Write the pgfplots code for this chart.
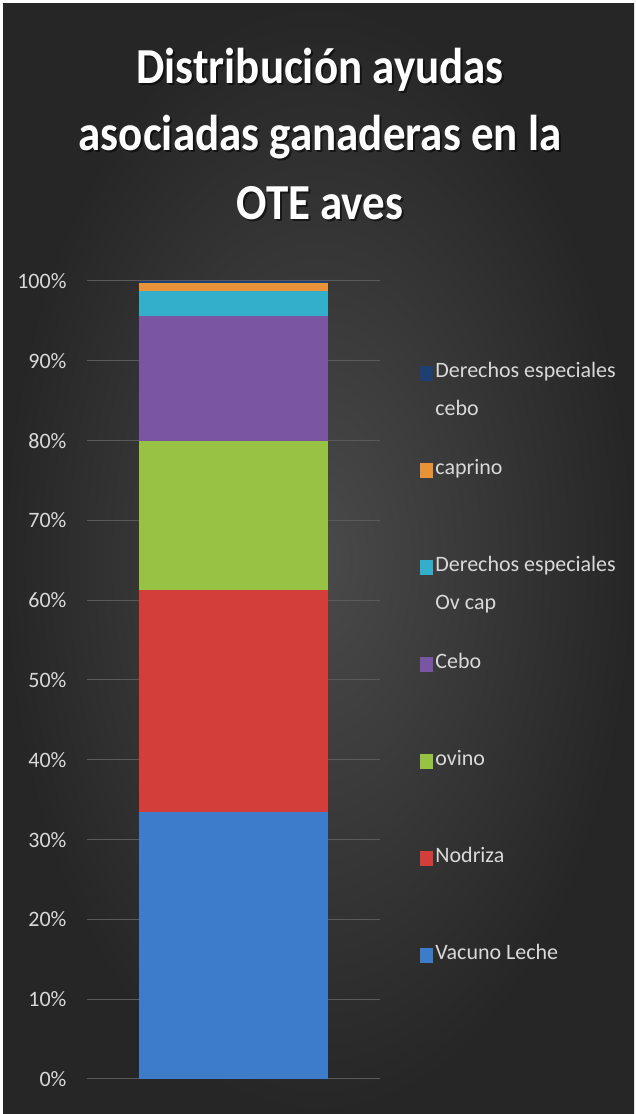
\documentclass[border=0pt]{standalone}
\usepackage{pgfplots}
\pgfplotsset{compat=1.18}
\usepackage{fontspec}
\setmainfont{Carlito}
\definecolor{bgIn}{HTML}{4A4A4A}
\definecolor{bgOut}{HTML}{262626}
\definecolor{gridc}{HTML}{5A5A5A}
\definecolor{tickc}{HTML}{D9D9D9}
\definecolor{cBlue}{HTML}{3D7CC8}
\definecolor{cRed}{HTML}{D33D3A}
\definecolor{cGreen}{HTML}{98C243}
\definecolor{cPurple}{HTML}{7A56A2}
\definecolor{cCyan}{HTML}{33AFCC}
\definecolor{cOrange}{HTML}{E8923A}
\definecolor{cNavy}{HTML}{1F3F73}
\newcommand{\second}[1]{\makebox[0pt][l]{\raisebox{-38pt}[0pt][0pt]{#1}}}
\begin{document}
\begin{tikzpicture}
\path[use as bounding box] (0,0) rectangle (636pt,1114pt);
\fill[white] (0,0) rectangle (636pt,1114pt);
\shade[inner color=bgIn, outer color=bgOut] (3pt,0) rectangle (634pt,1110pt);
\foreach \yy/\txt in {1030/{Distribución ayudas},963/{asociadas ganaderas en la},894/{OTE aves}}{
  \node[anchor=base, inner sep=0pt, text=black, opacity=0.55] at (322pt,\yy pt-2pt) {\scalebox{1}[1.12]{\fontsize{45}{45}\selectfont\bfseries \txt}};
  \node[anchor=base, inner sep=0pt, text=white] at (320pt,\yy pt) {\scalebox{1}[1.12]{\fontsize{45}{45}\selectfont\bfseries \txt}};
}
\begin{axis}[
  at={(87pt,35pt)}, anchor=south west, scale only axis,
  width=293pt, height=798pt,
  ybar stacked, bar width=189pt,
  xmin=-0.5, xmax=0.5, ymin=0, ymax=100,
  xtick=\empty, ytick={0,10,...,100},
  yticklabel={\pgfmathprintnumber{\tick}\%},
  /pgf/number format/assume math mode=true,
  ymajorgrids, grid style={color=gridc, line width=1pt},
  axis line style={draw=none}, major tick length=0pt,
  yticklabel style={font=\fontsize{22}{22}\selectfont, text=tickc, anchor=east, xshift=-17pt},
  reverse legend,
  legend cell align=left,
  legend style={at={(1.127,0.918)}, anchor=north west, draw=none, fill=none,
    row sep=65pt, font=\fontsize{22}{38}\selectfont, text=tickc},
  legend image code/.code={\fill[#1,draw=none] (0pt,-16pt) rectangle (13pt,-1pt);},
  clip=false,
]
\addplot[fill=cBlue, draw=none] coordinates {(0,33.4)};
\addlegendentry{\strut Vacuno Leche}
\addplot[fill=cRed, draw=none] coordinates {(0,27.9)};
\addlegendentry{\strut Nodriza}
\addplot[fill=cGreen, draw=none] coordinates {(0,18.7)};
\addlegendentry{\strut ovino}
\addplot[fill=cPurple, draw=none] coordinates {(0,15.6)};
\addlegendentry{\strut Cebo}
\addplot[fill=cCyan, draw=none] coordinates {(0,3.1)};
\addlegendentry{\strut\second{Ov cap}Derechos especiales}
\addplot[fill=cOrange, draw=none] coordinates {(0,1.1)};
\addlegendentry{\strut caprino}
\addplot[fill=cNavy, draw=none] coordinates {(0,0.2)};
\addlegendentry{\strut\second{cebo}Derechos especiales}
\end{axis}
\end{tikzpicture}
\end{document}
